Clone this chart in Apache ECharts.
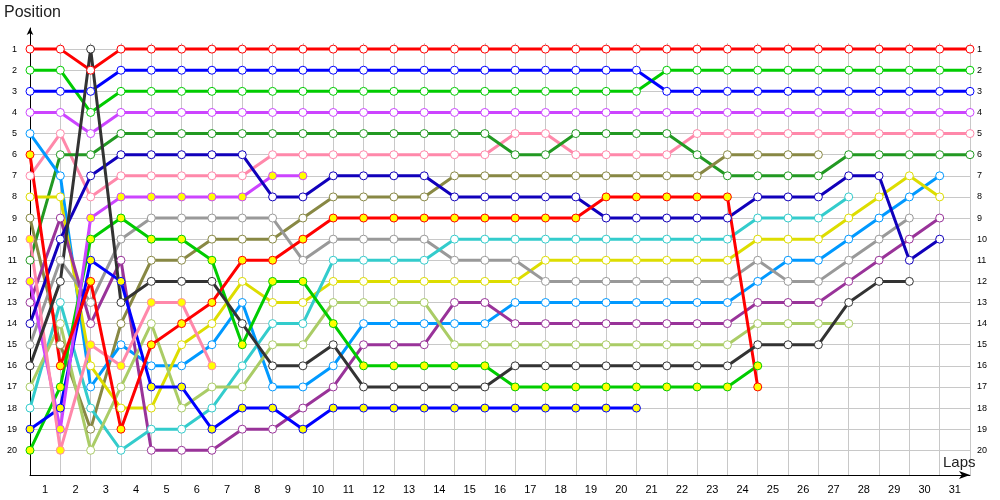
<!DOCTYPE html>
<html>
<head>
<meta charset="utf-8">
<script src="https://cdn.jsdelivr.net/npm/echarts@6/dist/echarts.min.js"></script>
<style>html,body{margin:0;padding:0;background:#fff}#c{width:1000px;height:500px}</style>
</head>
<body>
<div id="c"></div>
<script>
// Lap labels (x axis) and position labels (y axis)
const lapLabels = ['1','2','3','4','5','6','7','8','9','10','11','12','13','14','15','16','17','18','19','20','21','22','23','24','25','26','27','28','29','30','31'];
const positionLabels = ['1','2','3','4','5','6','7','8','9','10','11','12','13','14','15','16','17','18','19','20'];

// Position of each driver per lap (index 0 = grid / lap 0)
const redA       = [1,1,2,1,1,1,1,1,1,1, 1,1,1,1,1,1,1,1,1,1, 1,1,1,1,1,1,1,1,1,1, 1,1];
const greenA     = [2,2,4,3,3,3,3,3,3,3, 3,3,3,3,3,3,3,3,3,3, 3,2,2,2,2,2,2,2,2,2, 2,2];
const blueA      = [3,3,3,2,2,2,2,2,2,2, 2,2,2,2,2,2,2,2,2,2, 2,3,3,3,3,3,3,3,3,3, 3,3];
const magentaA   = [4,4,5,4,4,4,4,4,4,4, 4,4,4,4,4,4,4,4,4,4, 4,4,4,4,4,4,4,4,4,4, 4,4];
const pinkA      = [7,5,8,7,7,7,7,7,6,6, 6,6,6,6,6,6,5,5,6,6, 6,6,5,5,5,5,5,5,5,5, 5,5];
const darkGreenA = [11,6,6,5,5,5,5,5,5,5, 5,5,5,5,5,5,6,6,5,5, 5,5,6,7,7,7,7,6,6,6, 6,6];
const oliveA     = [9,15,19,14,11,11,10,10,10,9, 8,8,8,8,7,7,7,7,7,7, 7,7,7,6,6,6,6];
const darkBlueA  = [14,10,7,6,6,6,6,6,8,8, 7,7,7,7,8,8,8,8,8,9, 9,9,9,9,8,8,8,7,7,11, 10];
const lightBlueA = [5,7,17,15,16,16,15,13,17,17, 16,14,14,14,14,14,13,13,13,13, 13,13,13,13,12,11,11,10,9,8, 7];
const yellowA    = [8,8,16,18,18,15,14,12,13,13, 12,12,12,12,12,12,12,11,11,11, 11,11,11,11,10,10,10,9,8,7, 8];
const grayA      = [15,11,13,10,9,9,9,9,9,11, 10,10,10,10,11,11,11,12,12,12, 12,12,12,12,11,12,12,11,10,9];
const purpleA    = [13,9,14,11,20,20,20,19,19,18, 17,15,15,15,13,13,14,14,14,14, 14,14,14,14,13,13,13,12,11,10, 9];
const cyanA      = [18,13,18,20,19,19,18,16,14,14, 11,11,11,11,10,10,10,10,10,10, 10,10,10,10,9,9,9,8];
const lightGreenA= [17,14,20,17,14,18,17,17,15,15, 13,13,13,13,15,15,15,15,15,15, 15,15,15,15,14,14,14,14];
const blackA     = [16,12,1,13,12,12,12,14,16,16, 15,17,17,17,17,17,16,16,16,16, 16,16,16,16,15,15,15,13,12,12];
const greenB     = [20,17,10,9,10,10,11,15,12,12, 14,16,16,16,16,16,17,17,17,17, 17,17,17,17,16];
const blueB      = [19,18,11,12,17,17,19,18,18,19, 18,18,18,18,18,18,18,18,18,18, 18];
const redB       = [6,16,12,19,15,14,13,11,11,10, 9,9,9,9,9,9,9,9,9,8, 8,8,8,8,17];
const magentaB   = [12,19,9,8,8,8,8,8,7,7];
const pinkB      = [10,20,15,16,13,13,16];

const HOLLOW = '#ffffff', FILLED = '#ffff00';
const drivers = [
  [redA, '#ff0000', HOLLOW],
  [greenA, '#00cc00', HOLLOW],
  [blueA, '#0000ff', HOLLOW],
  [magentaA, '#cc44ff', HOLLOW],
  [pinkA, '#ff88aa', HOLLOW],
  [darkGreenA, '#229922', HOLLOW],
  [oliveA, '#888844', HOLLOW],
  [lightBlueA, '#0099ff', HOLLOW],
  [yellowA, '#dddd00', HOLLOW],
  [grayA, '#999999', HOLLOW],
  [purpleA, '#993399', HOLLOW],
  [cyanA, '#33cccc', HOLLOW],
  [lightGreenA, '#aacc66', HOLLOW],
  [greenB, '#00cc00', FILLED],
  [blueB, '#0000ff', FILLED],
  [magentaB, '#cc44ff', FILLED],
  [pinkB, '#ff88aa', FILLED],
  [darkBlueA, '#1100bb', HOLLOW],
  [redB, '#ff0000', FILLED],
  [blackA, '#333333', HOLLOW]
];

const gridColors = positionLabels.map(() => '#c8c8c8').concat(['rgba(0,0,0,0)']);
const labelFont = 'Liberation Sans, Arial, sans-serif';

const chart = echarts.init(document.getElementById('c'), null, {renderer: 'canvas'});
chart.setOption({
  animation: false,
  backgroundColor: '#ffffff',
  title: [
    {text: 'Position', left: 4, top: 5, padding: 0, textStyle: {fontFamily: labelFont, fontSize: 16, fontWeight: 'normal', color: '#222'}},
    {text: 'Laps', left: 943, top: 455, padding: 0, textStyle: {fontFamily: labelFont, fontSize: 15, fontWeight: 'normal', color: '#222'}}
  ],
  grid: [
    {left: 30, right: 30, top: 28, bottom: 25},
    {left: 30, right: 30, top: 43, bottom: 25}
  ],
  xAxis: [
    {gridIndex: 0, type: 'value', min: 0, max: 31, show: false},
    {gridIndex: 1, type: 'category', data: lapLabels, boundaryGap: true,
     axisLine: {show: true, lineStyle: {color: '#000', width: 1}, symbol: ['none', 'arrow'], symbolSize: [6, 11]},
     axisTick: {show: false},
     axisLabel: {color: '#000', fontSize: 11, fontFamily: labelFont, margin: 9},
     splitLine: {show: true, lineStyle: {color: '#c8c8c8', width: 1}}}
  ],
  yAxis: [
    {gridIndex: 0, type: 'value', inverse: true, min: 0, max: 21.17, interval: 1, position: 'left',
     axisLine: {show: true, lineStyle: {color: '#000', width: 1}, symbol: ['none', 'arrow'], symbolSize: [5, 7]},
     axisTick: {show: false},
     axisLabel: {color: '#000', fontSize: 9, fontFamily: labelFont, margin: 13,
       formatter: v => (Number.isInteger(v) && v >= 1 && v <= positionLabels.length) ? positionLabels[v - 1] : ''},
     splitLine: {show: true, showMinLine: false, showMaxLine: false, lineStyle: {color: gridColors, width: 1}}},
    {gridIndex: 0, type: 'value', inverse: true, min: 0, max: 21.17, interval: 1, position: 'right',
     axisLine: {show: false}, axisTick: {show: false}, splitLine: {show: false},
     axisLabel: {color: '#000', fontSize: 9, fontFamily: labelFont, margin: 7,
       formatter: v => (Number.isInteger(v) && v >= 1 && v <= positionLabels.length) ? positionLabels[v - 1] : ''}},
    {gridIndex: 1, type: 'value', show: false}
  ],
  series: drivers.map(([arr, color, fill]) => ({
    type: 'line',
    xAxisIndex: 0,
    yAxisIndex: 0,
    data: arr.map((p, i) => [i, p]),
    symbol: 'circle',
    symbolSize: 8,
    showAllSymbol: true,
    lineStyle: {color: color, width: 3},
    itemStyle: {color: fill, borderColor: color, borderWidth: 1},
    emphasis: {disabled: true},
    silent: true
  }))
});
</script>
</body>
</html>
